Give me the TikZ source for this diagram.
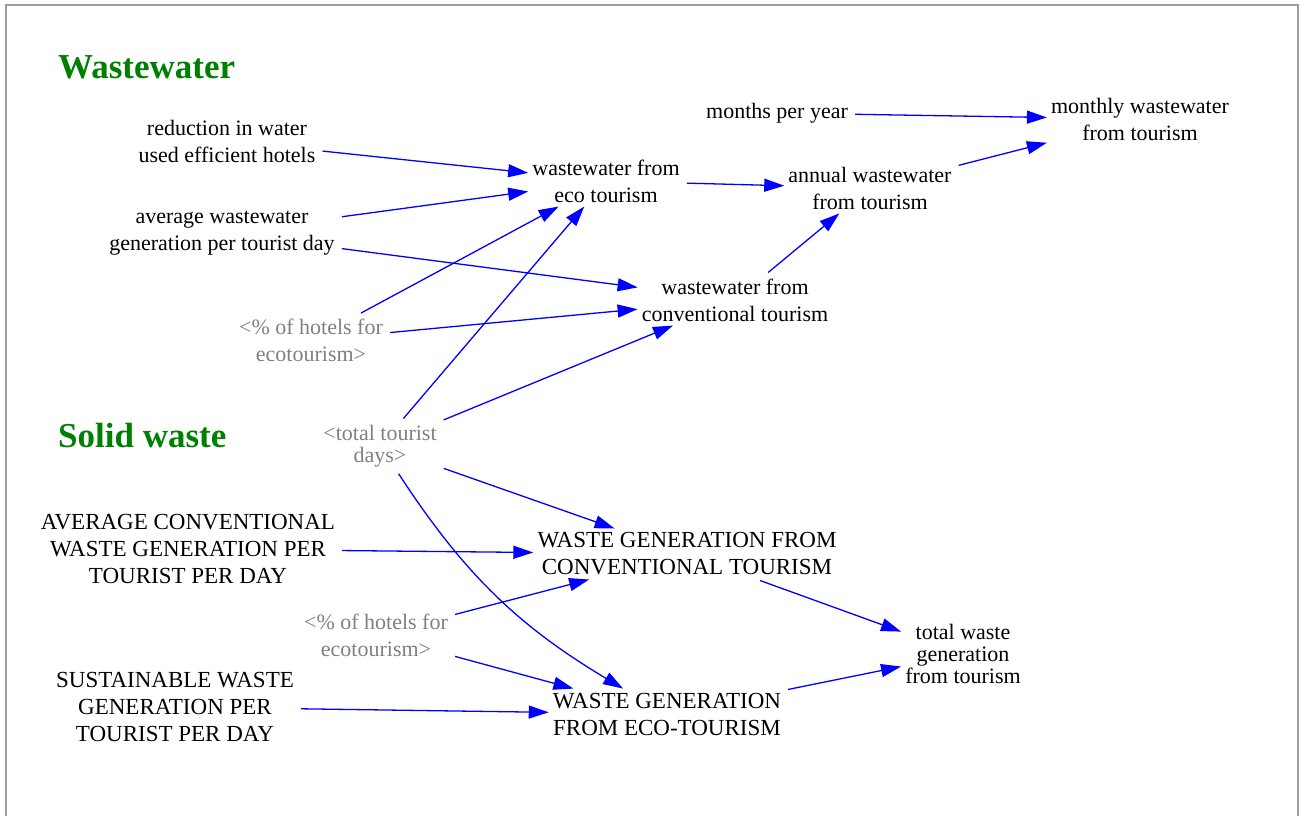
\documentclass[tikz,border=0pt]{standalone}
\usepackage{fontspec}
\setmainfont{Liberation Serif}
\usetikzlibrary{arrows.meta}

\begin{document}
\begin{tikzpicture}[x=1pt,y=-1pt,
		var/.style={align=center,inner sep=4pt,font=\fontsize{22}{27}\selectfont},
		caps/.style={var,font=\fontsize{23}{27}\selectfont},
		tight/.style={var,font=\fontsize{22}{22}\selectfont},
		shadow/.style={text=gray},
		heading/.style={anchor=west,inner sep=0pt,text=green!50!black,font=\fontsize{35}{40}\selectfont\bfseries},
		link/.style={blue,line width=1.3pt,shorten <=3pt,-{Triangle[length=20pt,width=13pt]}}]

		% Page and frame
		\useasboundingbox (0,0) rectangle (1304,815);
		\draw[gray!75,line width=2.5pt] (6,830) -- (6,5) -- (1298,5) -- (1298,830);

		% Section titles
		\node[heading] (wwtitle) at (58,67) {Wastewater};
		\node[heading] (swtitle) at (58,436) {Solid waste};

		% Wastewater variables
		\node[var] (reduction) at (227,141) {reduction in water\\used efficient hotels};
		\node[var] (avgww) at (222,233) {average wastewater\\generation per tourist day};
		\node[var,shadow] (hotelsA) at (311,340) {<\% of hotels for\\ecotourism>};
		\node[var] (ecoww) at (606,181) {wastewater from\\eco tourism};
		\node[var] (convww) at (735,300) {wastewater from\\conventional tourism};
		\node[var] (annualww) at (870,188) {annual wastewater\\from tourism};
		\node[var] (months) at (777,113) {months per year};
		\node[var] (monthlyww) at (1140,119) {monthly wastewater\\from tourism};

		% Solid waste variables
		\node[tight,shadow] (days) at (380,446) {<total tourist\\days>};
		\node[caps] (avgconv) at (188,549) {AVERAGE CONVENTIONAL\\WASTE GENERATION PER\\TOURIST PER DAY};
		\node[var,shadow] (hotelsB) at (376,635) {<\% of hotels for\\ecotourism>};
		\node[caps] (sust) at (175,707) {SUSTAINABLE WASTE\\GENERATION PER\\TOURIST PER DAY};
		\node[caps] (wgconv) at (687,554) {WASTE GENERATION FROM\\CONVENTIONAL TOURISM};
		\node[caps] (wgeco) at (667,714) {WASTE GENERATION\\FROM ECO-TOURISM};
		\node[tight] (totalw) at (963,654) {total waste\\generation\\from tourism};

		% Wastewater links
		\draw[link] (reduction) -- (ecoww);
		\draw[link] (avgww) -- (ecoww);
		\draw[link] (avgww) -- (convww);
		\draw[link] (hotelsA) -- (ecoww);
		\draw[link] (hotelsA) -- (convww);
		\draw[link] (days) -- (ecoww);
		\draw[link] (days) -- (convww);
		\draw[link] (ecoww) -- (annualww);
		\draw[link] (convww) -- (annualww);
		\draw[link] (months) -- (monthlyww);
		\draw[link] (annualww) -- (monthlyww);

		% Solid waste links
		\draw[link] (days) -- (wgconv);
		\draw[link] (days) to[bend right=13] (wgeco);
		\draw[link] (avgconv) -- (wgconv);
		\draw[link] (hotelsB) -- (wgconv);
		\draw[link] (hotelsB) -- (wgeco);
		\draw[link] (sust) -- (wgeco);
		\draw[link] (wgconv) -- (totalw);
		\draw[link] (wgeco) -- (totalw);

	\end{tikzpicture}
\end{document}
